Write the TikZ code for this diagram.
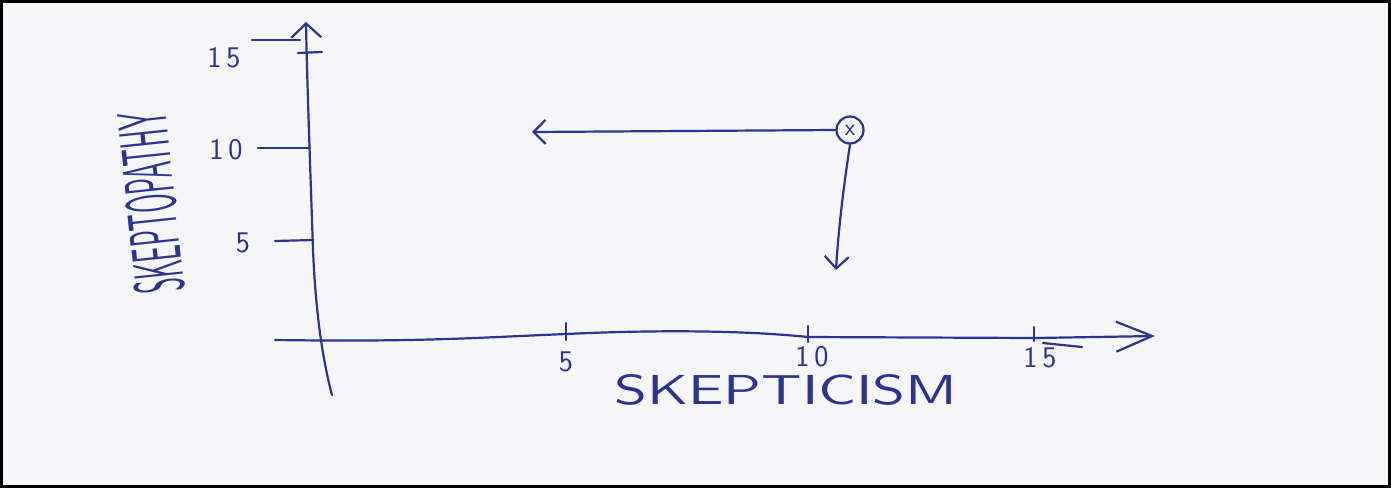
\documentclass[tikz,border=0pt]{standalone}
\usepackage{fontspec}
\usetikzlibrary{arrows.meta}
\definecolor{ink}{RGB}{42,52,150}
\definecolor{paper}{RGB}{246,246,248}
\tikzset{
  inkline/.style={draw=ink, line width=2.2pt, line cap=round, line join=round},
  yaxisarrow/.style={inkline, -{Straight Barb[length=14pt, width=30pt, line width=2.2pt]}},
  xaxisarrow/.style={inkline, -{Straight Barb[length=36pt, width=30pt, line width=2.2pt]}},
  ptarrow/.style={inkline, -{Straight Barb[length=12pt, width=24pt, line width=2.2pt]}},
  ticklbl/.style={text=ink, font=\sffamily\fontsize{30}{32}\selectfont, inner sep=0pt},
  pointnode/.style={circle, draw=ink, line width=2.2pt, minimum size=27pt, inner sep=0pt, text=ink, font=\sffamily\fontsize{24}{24}\selectfont}
}
\begin{document}
\begin{tikzpicture}[x=1pt, y=-1pt]
  % paper and frame
  \fill[paper] (0,0) rectangle (1391,488);
  \useasboundingbox (0,0) rectangle (1391,488);
  \draw[black, line width=3pt] (1.5,1.5) rectangle (1389.5,486.5);

  % y axis
  \coordinate (yb) at (332,395);
  \coordinate (yt) at (306,22);
  \draw[yaxisarrow] (yb) .. controls (324,365) and (316,320) .. (313,250)
     .. controls (310,160) and (307,80) .. (yt);

  % x axis
  \coordinate (xl) at (275,340);
  \coordinate (xr) at (1155,336);
  \draw[xaxisarrow] (xl) .. controls (420,342) and (470,338) .. (566,334)
     .. controls (650,330) and (740,330) .. (808,337)
     -- (1035,338) -- (xr);
  \coordinate (x15s) at (1043,343); \coordinate (x15t) at (1082,347);
  \draw[inkline] (x15s) -- (x15t);

  % y ticks
  \coordinate (y15a) at (298,53); \coordinate (y15b) at (322,52);
  \coordinate (y15c) at (252,40); \coordinate (y15d) at (300,40);
  \draw[inkline] (y15a) -- (y15b);
  \draw[inkline] (y15c) -- (y15d);
  \coordinate (y10a) at (258,148); \coordinate (y10b) at (310,148);
  \draw[inkline] (y10a) -- (y10b);
  \coordinate (y5a) at (275,241); \coordinate (y5b) at (313,240);
  \draw[inkline] (y5a) -- (y5b);

  % x ticks
  \coordinate (x5a) at (566,323); \coordinate (x5b) at (566,340);
  \draw[inkline] (x5a) -- (x5b);
  \coordinate (x10a) at (808,326); \coordinate (x10b) at (808,342);
  \draw[inkline] (x10a) -- (x10b);
  \coordinate (x15a) at (1034,327); \coordinate (x15b) at (1034,341);
  \draw[inkline] (x15a) -- (x15b);

  % tick labels
  \node[ticklbl] (ly15) at (224,58) {1\,5};
  \node[ticklbl] (ly10) at (226,150) {1\,0};
  \node[ticklbl] (ly5)  at (243,243) {5};
  \node[ticklbl] (lx5)  at (566,362) {5};
  \node[ticklbl] (lx10) at (812,357) {1\,0};
  \node[ticklbl] (lx15) at (1040,358) {1\,5};

  % axis titles
  \node[text=ink, inner sep=0pt] (xtitle) at (786,390)
    {\resizebox{343pt}{30pt}{\sffamily SKEPTICISM}};
  \node[text=ink, inner sep=0pt, rotate=96] (ytitle) at (151,203)
    {\resizebox{182pt}{50pt}{\sffamily SKEPTOPATHY}};

  % point and arrows
  \node[pointnode] (pt) at (850,130) {x};
  \coordinate (lefttip) at (532,132);
  \coordinate (downtip) at (836,270);
  \draw[ptarrow] (pt.west) -- (lefttip);
  \draw[ptarrow] (pt.south) .. controls (843,190) and (838,235) .. (downtip);
\end{tikzpicture}
\end{document}
